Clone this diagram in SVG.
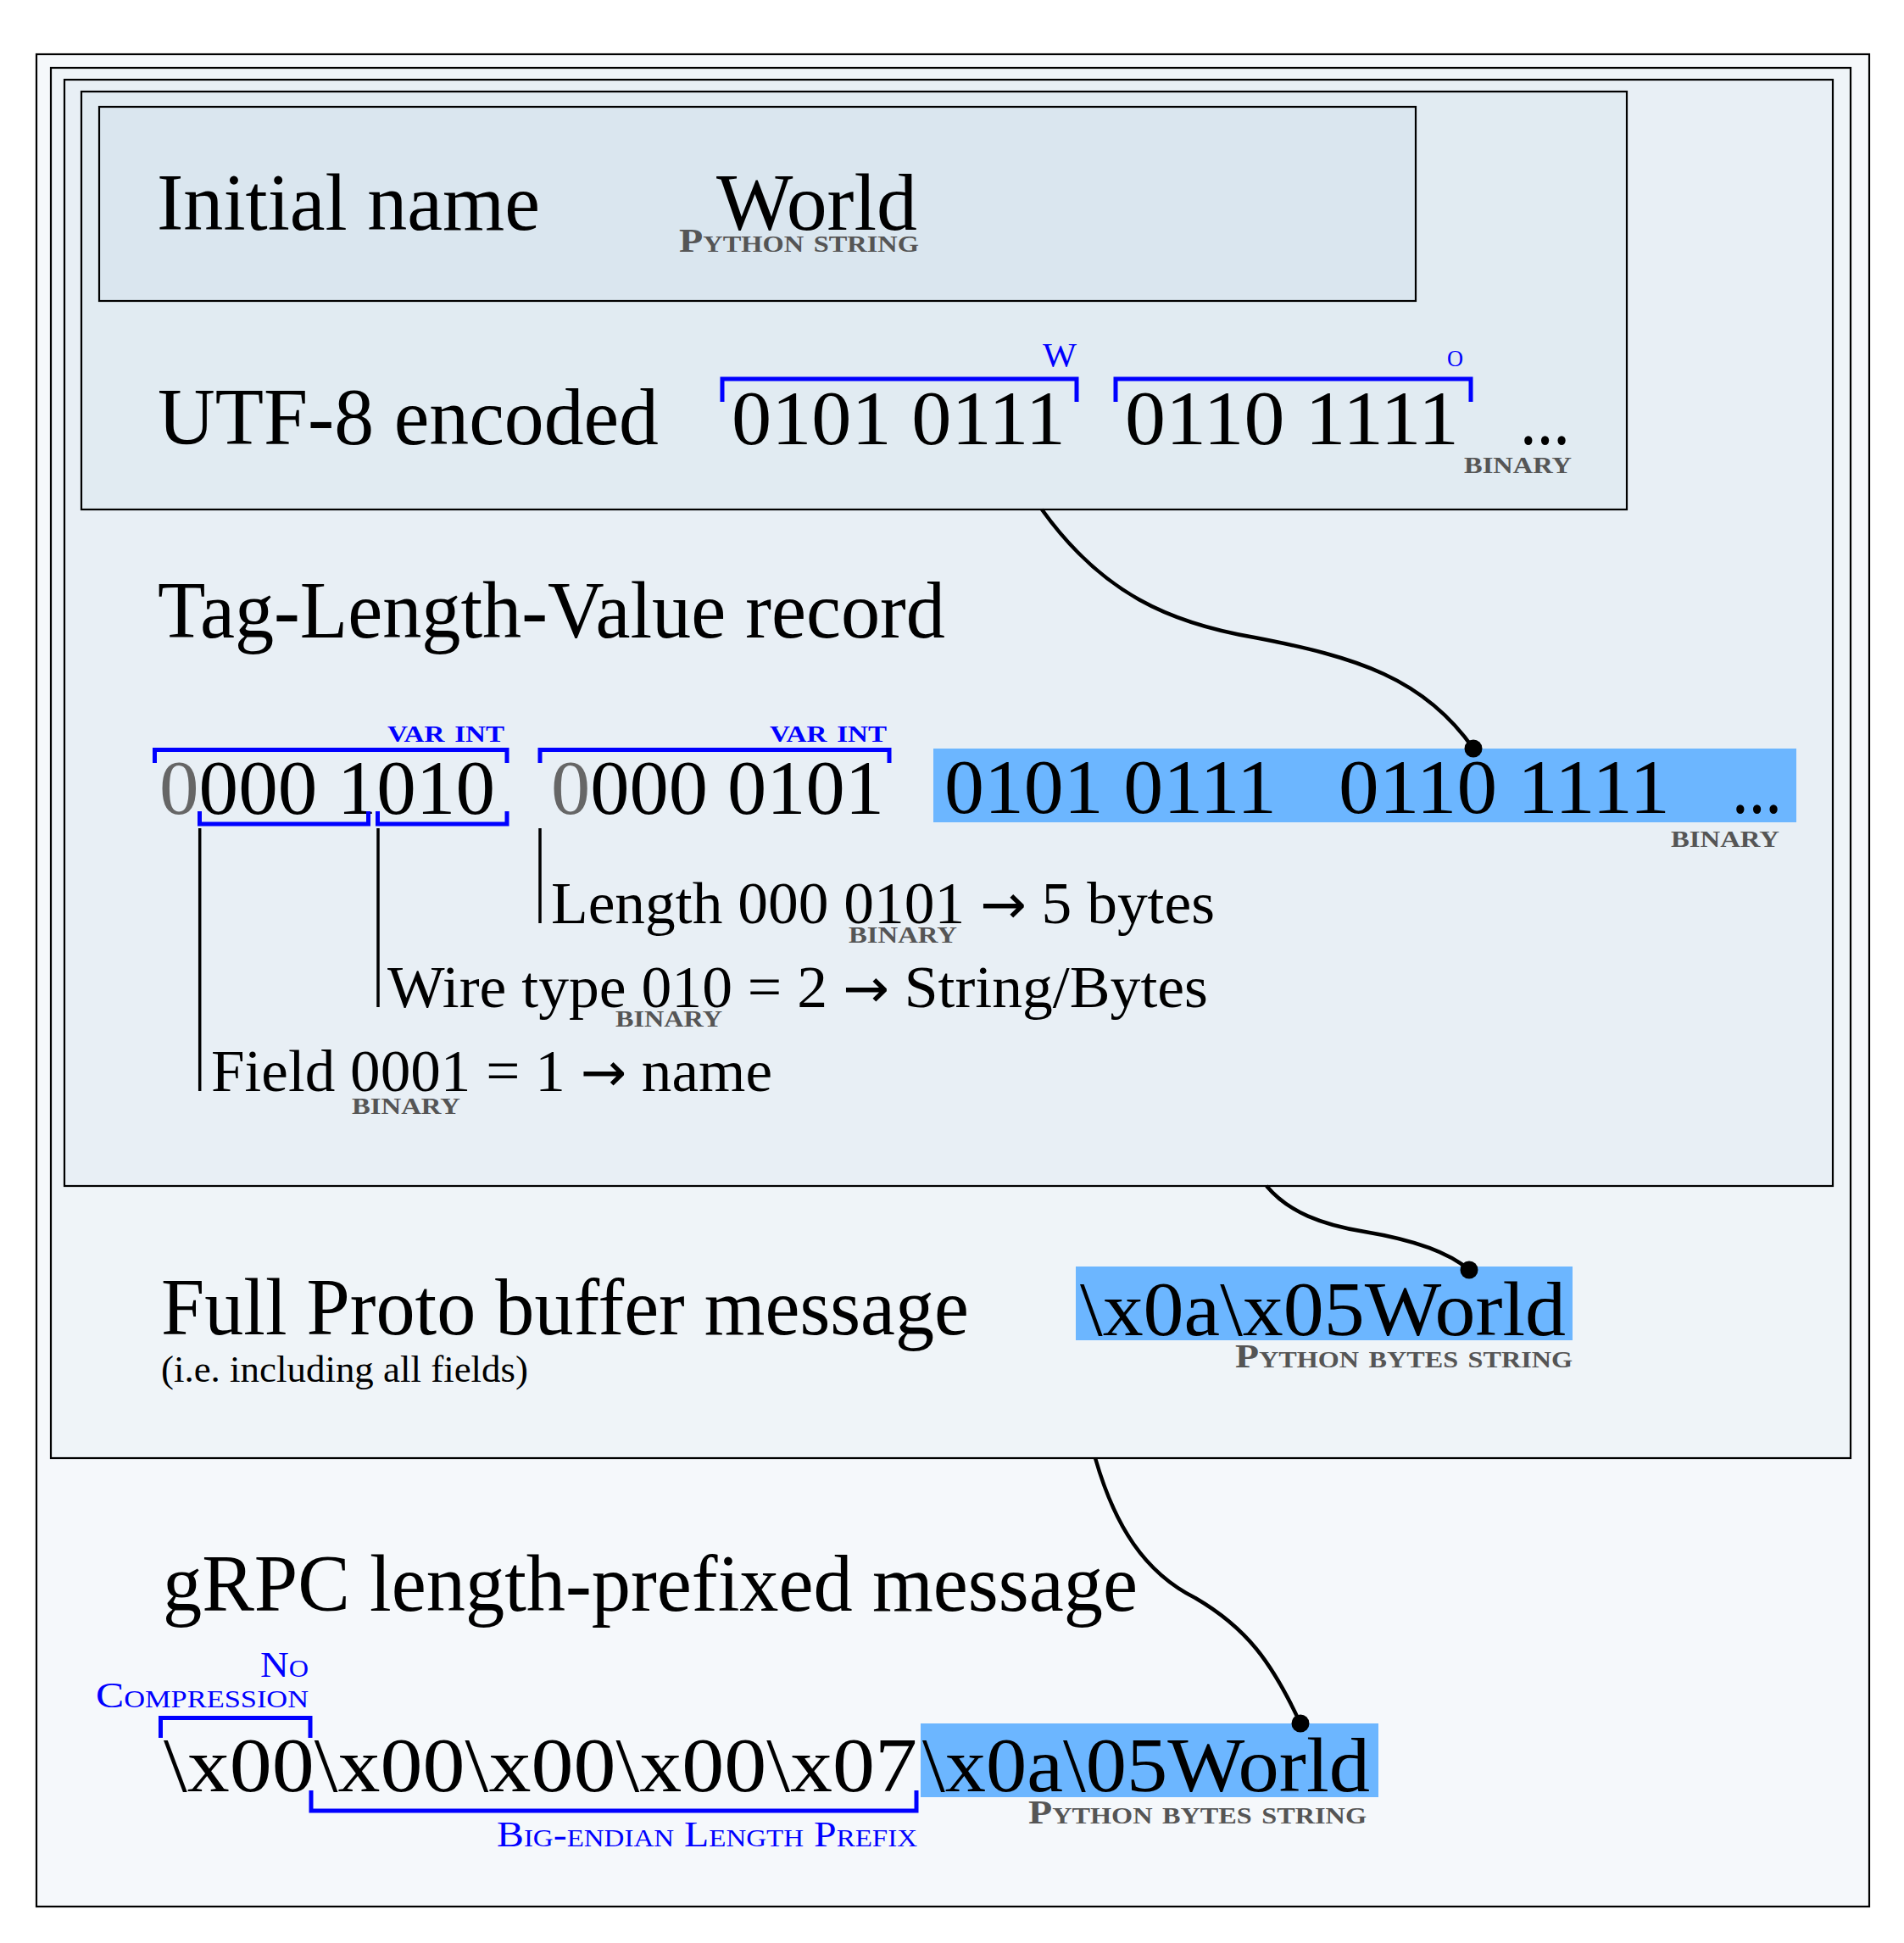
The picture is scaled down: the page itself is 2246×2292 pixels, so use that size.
<svg xmlns="http://www.w3.org/2000/svg" width="2246" height="2292" viewBox="0 0 2246 2292">
<defs>
<style>
.box{stroke:#000;stroke-width:2.2}
.t{font-family:"Liberation Serif","DejaVu Serif",serif;fill:#000}
.h{font-size:96px}
.b{font-size:92px}
.m{font-size:70px}
.s{font-size:45px}
.lab{font-size:40px;font-variant:small-caps;fill:#555;font-weight:bold}
.blab{font-size:40px;font-variant:small-caps;fill:#0000ff}
.bold{font-weight:bold}
.g{fill:#666}
.ar{font-family:"DejaVu Sans",sans-serif;font-size:64px}
.br{fill:none;stroke:#0000ff;stroke-width:5}
.vl{stroke:#000;stroke-width:3.5}
.hl{fill:#6cb6ff}
.conn{fill:none;stroke:#000;stroke-width:4.5}
.dot{fill:#000}
</style>
</defs>
<rect width="2246" height="2292" fill="#fff"/>

<g id="grpc-message">
<rect class="box" x="43" y="64" width="2162" height="2185" fill="#f5f8fb"/>
<text class="t h" x="192" y="1900" textLength="1150" lengthAdjust="spacingAndGlyphs">gRPC length-prefixed message</text>
<text class="t blab" x="307" y="1978" textLength="57" lengthAdjust="spacingAndGlyphs" style="font-size:42px">No</text>
<text class="t blab" x="113" y="2014" textLength="251" lengthAdjust="spacingAndGlyphs" style="font-size:42px">Compression</text>
<path class="br" d="M189.5,2050 V2026.5 H366 V2050"/>
<text class="t b" x="193" y="2113" textLength="889" lengthAdjust="spacingAndGlyphs">\x00\x00\x00\x00\x07</text>
<path class="br" d="M367,2112 V2136 H1081 V2112"/>
<text class="t blab" x="586" y="2178" textLength="496" lengthAdjust="spacingAndGlyphs" style="font-size:42px">Big-endian Length Prefix</text>
<rect class="hl" x="1086" y="2033" width="540" height="87"/>
<text class="t b" x="1088" y="2113" textLength="528" lengthAdjust="spacingAndGlyphs">\x0a\05World</text>
<text class="t lab" x="1213" y="2151" textLength="399" lengthAdjust="spacingAndGlyphs">Python bytes string</text>
</g>

<g id="proto-message">
<rect class="box" x="60" y="80" width="2123" height="1640" fill="#eff4f8"/>
<text class="t h" x="190" y="1574" textLength="953" lengthAdjust="spacingAndGlyphs">Full Proto buffer message</text>
<text class="t s" x="190" y="1630" textLength="433" lengthAdjust="spacingAndGlyphs">(i.e. including all fields)</text>
<rect class="hl" x="1269" y="1494" width="586" height="87"/>
<text class="t b" x="1274" y="1575" textLength="573" lengthAdjust="spacingAndGlyphs">\x0a\x05World</text>
<text class="t lab" x="1457" y="1613" textLength="398" lengthAdjust="spacingAndGlyphs">Python bytes string</text>
</g>

<g id="tlv-record">
<rect class="box" x="76" y="94" width="2086" height="1305" fill="#e8eff5"/>
<text class="t h" x="186" y="752" textLength="929" lengthAdjust="spacingAndGlyphs">Tag-Length-Value record</text>
<text class="t blab bold" x="457" y="875" textLength="138" lengthAdjust="spacingAndGlyphs">var int</text>
<path class="br" d="M182.5,900 V884.5 H598 V900"/>
<text class="t b" x="188" y="960" textLength="396" lengthAdjust="spacingAndGlyphs"><tspan class="g">0</tspan>000 1010</text>
<path class="br" d="M235.5,957 V972 H434.5 V957"/>
<path class="br" d="M445.5,957 V972 H598 V957"/>
<text class="t blab bold" x="908" y="875" textLength="138" lengthAdjust="spacingAndGlyphs">var int</text>
<path class="br" d="M637,900 V884.5 H1049 V900"/>
<text class="t b" x="650" y="960" textLength="393" lengthAdjust="spacingAndGlyphs"><tspan class="g">0</tspan>000 0101</text>
<rect class="hl" x="1101" y="883" width="1018" height="87"/>
<text class="t b" x="1114" y="959" textLength="392" lengthAdjust="spacingAndGlyphs">0101 0111</text>
<text class="t b" x="1579" y="959" textLength="391" lengthAdjust="spacingAndGlyphs">0110 1111</text>
<text class="t b" x="2043" y="959" textLength="59" lengthAdjust="spacingAndGlyphs">...</text>
<text class="t lab" x="1971" y="999" textLength="128" lengthAdjust="spacingAndGlyphs">binary</text>
<line class="vl" x1="637" y1="977" x2="637" y2="1089"/>
<line class="vl" x1="446" y1="977" x2="446" y2="1188"/>
<line class="vl" x1="235.7" y1="977" x2="235.7" y2="1287"/>
<text class="t m" x="650" y="1089" textLength="783" lengthAdjust="spacingAndGlyphs">Length 000 0101 <tspan class="ar">→</tspan> 5 bytes</text>
<text class="t lab" x="1001" y="1112" textLength="128" lengthAdjust="spacingAndGlyphs">binary</text>
<text class="t m" x="457" y="1188" textLength="968" lengthAdjust="spacingAndGlyphs">Wire type 010 = 2 <tspan class="ar">→</tspan> String/Bytes</text>
<text class="t lab" x="726" y="1211" textLength="126" lengthAdjust="spacingAndGlyphs">binary</text>
<text class="t m" x="249" y="1287" textLength="662" lengthAdjust="spacingAndGlyphs">Field 0001 = 1 <tspan class="ar">→</tspan> name</text>
<text class="t lab" x="415" y="1314" textLength="128" lengthAdjust="spacingAndGlyphs">binary</text>
</g>

<g id="utf8-encoded">
<rect class="box" x="96" y="108" width="1823" height="493" fill="#e1ebf2"/>
<text class="t h" x="186" y="524" textLength="591" lengthAdjust="spacingAndGlyphs">UTF-8 encoded</text>
<text class="t blab" x="1230" y="432" textLength="40" lengthAdjust="spacingAndGlyphs">W</text>
<path class="br" d="M852,474 V447 H1270 V474"/>
<text class="t b" x="863" y="524" textLength="394" lengthAdjust="spacingAndGlyphs">0101 0111</text>
<text class="t blab" x="1707" y="432" textLength="19" lengthAdjust="spacingAndGlyphs">o</text>
<path class="br" d="M1316,474 V447 H1735 V474"/>
<text class="t b" x="1327" y="524" textLength="394" lengthAdjust="spacingAndGlyphs">0110 1111</text>
<text class="t b" x="1793" y="524" textLength="59" lengthAdjust="spacingAndGlyphs">...</text>
<text class="t lab" x="1727" y="558" textLength="127" lengthAdjust="spacingAndGlyphs">binary</text>
</g>

<g id="initial-name">
<rect class="box" x="117" y="126" width="1553" height="229" fill="#dae6ef"/>
<text class="t h" x="185" y="271" textLength="452" lengthAdjust="spacingAndGlyphs">Initial name</text>
<text class="t h" x="845" y="271" textLength="237" lengthAdjust="spacingAndGlyphs">World</text>
<text class="t lab" x="801" y="297" textLength="283" lengthAdjust="spacingAndGlyphs">Python string</text>
</g>

<g id="connectors">
<path class="conn" d="M1229,601 C1300,700 1380,735 1480,752 C1600,775 1680,800 1738,883"/>
<circle class="dot" cx="1738" cy="883" r="10.5"/>
<path class="conn" d="M1494,1399 C1520,1430 1560,1445 1610,1453 C1670,1463 1710,1478 1733,1498"/>
<circle class="dot" cx="1733" cy="1498" r="10.5"/>
<path class="conn" d="M1292,1720 C1315,1800 1350,1855 1410,1885 C1470,1920 1500,1960 1534,2033"/>
<circle class="dot" cx="1534" cy="2033" r="10.5"/>
</g>
</svg>
